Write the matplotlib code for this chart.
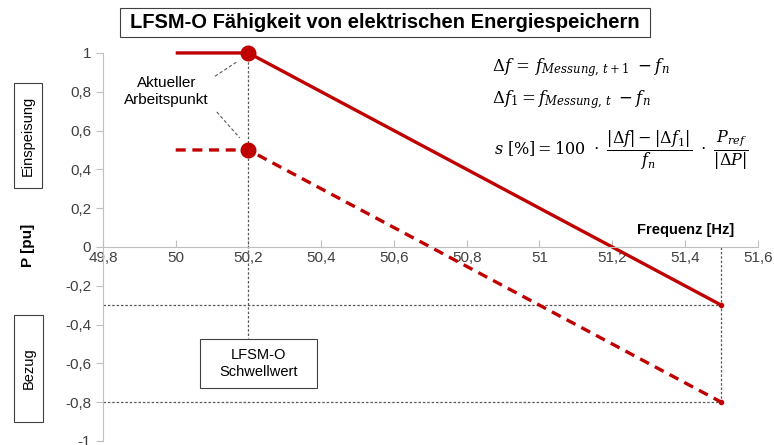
import matplotlib.pyplot as plt
from matplotlib.patches import Rectangle
from matplotlib.ticker import FuncFormatter

# data
f_solid = [50.0, 50.2, 51.5]
p_solid = [1.0, 1.0, -0.3]
f_dashed = [50.0, 50.2, 51.5]
p_dashed = [0.5, 0.5, -0.8]
f_threshold = 50.2
f_end = 51.5
x_ticks = [49.8, 50.0, 50.2, 50.4, 50.6, 50.8, 51.0, 51.2, 51.4, 51.6]
y_ticks = [-1.0, -0.8, -0.6, -0.4, -0.2, 0.0, 0.2, 0.4, 0.6, 0.8, 1.0]

red = '#C00000'
grey = '#595959'
plt.rcParams['font.family'] = ['Liberation Sans', 'DejaVu Sans']
plt.rcParams['mathtext.fontset'] = 'dejavuserif'

W, H = 774, 445
fig = plt.figure(figsize=(7.74, 4.45), dpi=100)
ax = fig.add_axes([0.133, 0.009, 0.846, 0.872])
ax.set_xlim(49.8, 51.6)
ax.set_ylim(-1.0, 1.0)

def px_box(x0, y0, x1, y1):
    # rectangle given in picture pixels from top-left
    fig.patches.append(Rectangle((x0 / W, 1 - y1 / H), (x1 - x0) / W, (y1 - y0) / H,
                                 transform=fig.transFigure, fc='white', ec='#404040', lw=0.8, zorder=2))

# guide lines
gl = dict(ls=(0, (2, 1.5)), color=grey, lw=0.9)
ax.plot([f_threshold, f_threshold], [1.0, -0.47], **gl)
ax.plot([49.8, f_end], [p_solid[-1], p_solid[-1]], **gl)
ax.plot([49.8, f_end], [p_dashed[-1], p_dashed[-1]], **gl)
ax.plot([f_end, f_end], [0, p_dashed[-1]], **gl)

# curves
ax.plot(f_solid, p_solid, color=red, lw=2.4, solid_capstyle='butt', clip_on=False)
ax.plot(f_dashed, p_dashed, color=red, lw=2.4, ls=(0, (3, 2)), clip_on=False)
ax.plot([f_solid[1], f_dashed[1]], [p_solid[1], p_dashed[1]], 'o', color=red, ms=10.5, zorder=5, clip_on=False)
ax.plot([f_solid[2], f_dashed[2]], [p_solid[2], p_dashed[2]], 'o', color=red, ms=3, zorder=5, clip_on=False)

# axes styling
for s in ['top', 'right']:
    ax.spines[s].set_visible(False)
ax.spines['bottom'].set_position(('data', 0))
ax.spines['bottom'].set_color('#BFBFBF')
ax.spines['left'].set_color('#BFBFBF')
ax.set_xticks(x_ticks)
ax.set_yticks(y_ticks)
comma = FuncFormatter(lambda v, p: ('%g' % round(v, 1)).replace('.', ','))
ax.xaxis.set_major_formatter(comma)
ax.yaxis.set_major_formatter(comma)
ax.tick_params(axis='x', direction='in', length=5, color='#BFBFBF', labelsize=11, pad=3, labelcolor='#404040')
ax.tick_params(axis='y', direction='out', length=5, color='#BFBFBF', labelsize=11, labelcolor='#404040')

# annotations
ax.text(49.975, 0.80, 'Aktueller\nArbeitspunkt', ha='center', va='center', fontsize=11, linespacing=1.25)
ax.plot([50.108, 50.168], [0.880, 0.954], ls=(0, (3, 2)), color=grey, lw=0.8)
ax.plot([50.113, 50.176], [0.696, 0.562], ls=(0, (3, 2)), color=grey, lw=0.8)
px_box(200, 339, 317, 388)
fig.text(258.5 / W, 1 - 363.5 / H, 'LFSM-O\nSchwellwert', ha='center', va='center', fontsize=10.5, linespacing=1.3)

px_box(120, 8, 650, 37)
fig.text(385 / W, 1 - 22.5 / H, 'LFSM-O Fähigkeit von elektrischen Energiespeichern', ha='center', va='center',
         fontsize=14.5, fontweight='bold')
px_box(14, 83, 42, 188)
fig.text(28 / W, 1 - 135.5 / H, 'Einspeisung', rotation=90, ha='center', va='center', fontsize=10.5)
px_box(14, 315, 43, 422)
fig.text(28.5 / W, 1 - 368.5 / H, 'Bezug', rotation=90, ha='center', va='center', fontsize=10.5)
fig.text(0.036, 0.448, 'P [pu]', rotation=90, ha='center', va='center', fontsize=11, fontweight='bold')
fig.text(686 / W, 1 - 230 / H, 'Frequenz [Hz]', ha='center', va='center', fontsize=10.5, fontweight='bold')

# formulas
fig.text(492 / W, 1 - 68 / H, r'$\Delta f\, =\, f_{Messung,\,t+1}\ -f_n$', fontsize=12, va='center')
fig.text(492 / W, 1 - 100 / H, r'$\Delta f_1 = f_{Messung,\,t}\ -f_n$', fontsize=12, va='center')
fig.text(494 / W, 1 - 150 / H, r'$s\ [\%] = 100\ \cdot\ \dfrac{|\Delta f| - |\Delta f_1|}{f_n}\ \cdot\ \dfrac{P_{ref}}{|\Delta P|}$',
         fontsize=11.5, va='center')

fig.savefig('out.png', dpi=100)
